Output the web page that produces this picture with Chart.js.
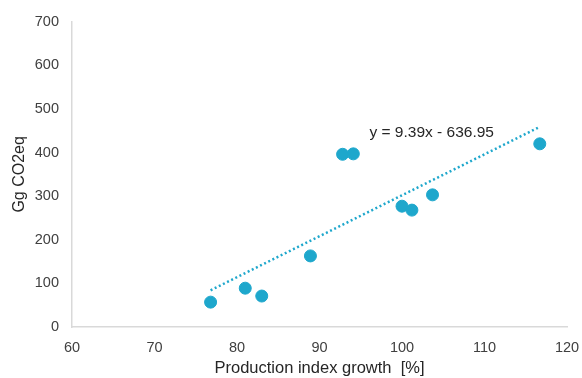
<!DOCTYPE html>
<html>
<head>
<meta charset="utf-8">
<script src="https://cdn.jsdelivr.net/npm/chart.js@4.4.1/dist/chart.umd.min.js"></script>
<style>
  html, body { margin: 0; padding: 0; background: #fff; }
  #wrap { width: 582px; height: 378px; }
</style>
</head>
<body>
<div id="wrap"><canvas id="c" width="582" height="378"></canvas></div>
<script>
// Production index growth [%] vs emissions [Gg CO2eq]
const productionIndex = [76.8, 81.0, 83.0, 88.9, 92.8, 94.1, 100.0, 101.2, 103.7, 116.7];
const emissions = [57, 89, 71, 163, 396, 397, 277, 268, 303, 420];

// Linear trend: y = slope * x + intercept
const trendSlope = 9.39;
const trendIntercept = -636.95;
const trendLabel = 'y = 9.39x - 636.95';
const trendLabelAnchor = { x: 103.6, y: 446 };

const xTicks = [60, 70, 80, 90, 100, 110, 120];
const yTicks = [0, 100, 200, 300, 400, 500, 600, 700];

const pointColor = '#1ea7cc';
const tickColor = '#404040';
const titleColor = '#262626';
const axisColor = '#d9d9d9';
const fontFamily = '"Liberation Sans", Arial, sans-serif';

const scatterData = productionIndex.map((x, i) => ({ x, y: emissions[i] }));
const xMin = Math.min(...productionIndex);
const xMax = Math.max(...productionIndex);
const trendData = [xMin, xMax].map(x => ({ x, y: trendSlope * x + trendIntercept }));

const trendLabelPlugin = {
  id: 'trendLabel',
  afterDatasetsDraw(chart) {
    const { ctx, scales } = chart;
    const px = scales.x.getPixelForValue(trendLabelAnchor.x);
    const py = scales.y.getPixelForValue(trendLabelAnchor.y);
    ctx.save();
    ctx.font = '15.5px ' + fontFamily;
    ctx.fillStyle = titleColor;
    ctx.textAlign = 'center';
    ctx.textBaseline = 'middle';
    ctx.fillText(trendLabel, px, py);
    ctx.restore();
  }
};

new Chart(document.getElementById('c'), {
  type: 'scatter',
  data: {
    datasets: [
      {
        type: 'line',
        data: trendData,
        borderColor: pointColor,
        borderWidth: 2.5,
        borderDash: [2, 2.6],
        pointRadius: 0,
        fill: false,
        order: 2
      },
      {
        data: scatterData,
        backgroundColor: pointColor,
        borderColor: pointColor,
        pointRadius: 6,
        pointHoverRadius: 6,
        order: 1
      }
    ]
  },
  options: {
    responsive: false,
    animation: false,
    devicePixelRatio: 1,
    layout: { padding: { top: 21, right: 15, left: 0, bottom: 0 } },
    plugins: {
      legend: { display: false },
      tooltip: { enabled: false }
    },
    scales: {
      x: {
        type: 'linear',
        min: 60,
        max: 120,
        afterBuildTicks(scale) { scale.ticks = xTicks.map(v => ({ value: v })); },
        afterFit(scale) {
          scale.height = 51;
          scale.paddingLeft = 0;
          scale.paddingRight = 0;
        },
        grid: { display: false, drawTicks: false },
        border: { display: true, color: axisColor, width: 1.5 },
        ticks: { color: tickColor, font: { family: fontFamily, size: 14.5 }, padding: 12, maxRotation: 0 },
        title: {
          display: true,
          text: 'Production index growth  [%]',
          color: titleColor,
          font: { family: fontFamily, size: 16.5 },
          padding: { top: 2, bottom: 0 }
        }
      },
      y: {
        type: 'linear',
        min: 0,
        max: 700,
        afterBuildTicks(scale) { scale.ticks = yTicks.map(v => ({ value: v })); },
        afterFit(scale) { scale.width = 72; },
        grid: { display: false, drawTicks: false },
        border: { display: true, color: axisColor, width: 1.5 },
        ticks: { color: tickColor, font: { family: fontFamily, size: 14.5 }, padding: 13 },
        title: {
          display: true,
          text: 'Gg CO2eq',
          color: titleColor,
          font: { family: fontFamily, size: 16 },
          padding: { top: 10, bottom: 4 }
        }
      }
    }
  },
  plugins: [trendLabelPlugin]
});
</script>
</body>
</html>
